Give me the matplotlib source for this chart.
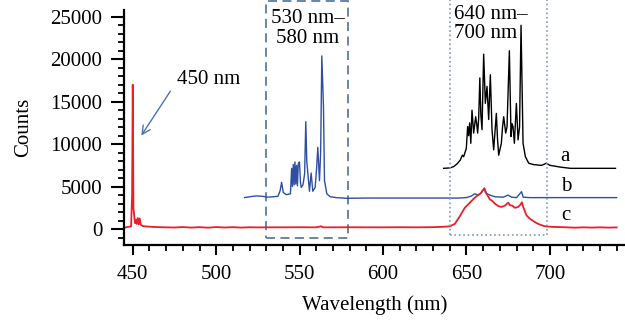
import matplotlib
matplotlib.use("Agg")
import matplotlib.pyplot as plt
from matplotlib.patches import Rectangle
from matplotlib.ticker import MultipleLocator

# curve c (red)
red_wl = [445, 447, 449, 449.6, 450, 450.4, 451, 451.4, 451.8, 452.4,
          453, 453.6, 454.2, 454.8, 456, 458, 462, 466, 470, 475,
          480, 485, 490, 495, 500, 505, 510, 515, 520, 525,
          530, 540, 550, 560, 563, 564, 565, 570, 580, 590,
          600, 610, 620, 630, 636, 640, 643, 646, 649, 652,
          655, 657, 658.5, 659.5, 660.7, 661.5, 662.5, 664, 665.5, 667,
          669, 671, 673, 675, 676, 677.5, 679, 681, 682.5, 683.2,
          684, 686, 688, 690, 692, 694, 696, 698, 702, 706,
          710, 715, 720, 725, 730, 735, 740]
red_ct = [150, 250, 300, 4000, 17000, 2500, 1300, 700, 1100, 600,
          1300, 550, 1250, 500, 350, 300, 250, 220, 200, 180,
          230, 170, 220, 160, 230, 180, 220, 170, 210, 190,
          200, 200, 210, 200, 320, 200, 200, 200, 210, 200,
          200, 210, 200, 220, 260, 320, 600, 1500, 2500, 3100,
          3700, 4000, 4200, 4500, 4750, 4300, 4000, 3500, 3300, 3000,
          2700, 2600, 2750, 3100, 2800, 2750, 2500, 2600, 2900, 3150,
          2600, 1600, 1200, 950, 700, 520, 380, 300, 250, 230,
          200, 160, 200, 170, 200, 170, 190]

# curve b (blue)
blue_wl = [517, 520, 524, 528, 531, 534, 537, 538.3, 539.2, 540.2,
           542, 544.5, 545.2, 545.7, 546.2, 546.7, 547.2, 547.7, 548.2, 548.7,
           549.2, 549.9, 550.5, 551, 552, 553, 553.7, 554.3, 554.9, 555.9,
           556.9, 557.9, 559.3, 560.2, 560.9, 561.9, 562.6, 563.3, 564.3, 564.9,
           566.3, 568.3, 572, 578, 590, 610, 630, 645, 650, 653,
           655, 657, 659, 660.7, 662, 664, 667, 672, 675, 677,
           680, 683, 684, 688, 700, 720, 740]
blue_ct = [3700, 3800, 3900, 3850, 3750, 3800, 3850, 4500, 5500, 4300,
           4050, 4150, 7150, 5000, 7600, 5200, 7900, 5300, 7500, 5100,
           7700, 7900, 5500, 4900, 5200, 6500, 12650, 8000, 6600, 4450,
           6600, 4450, 4900, 7200, 9630, 5700, 9000, 20400, 14400, 5700,
           4150, 3800, 3700, 3620, 3650, 3650, 3650, 3650, 3700, 3900,
           4150, 4000, 4300, 4830, 4200, 4000, 3800, 3750, 4000, 3750,
           3700, 4400, 3750, 3700, 3700, 3700, 3700]

# curve a (black)
black_wl = [636.3, 640, 642.3, 644.5, 646.3, 647.5, 648.3, 649.9, 650.7, 651.3,
            651.9, 652.6, 653.3, 654.3, 655.5, 656.1, 656.7, 657.3, 658, 658.6,
            659.3, 660.3, 661.3, 662.3, 663.3, 664.3, 665.3, 666.3, 667.1, 667.9,
            668.6, 669.3, 670.9, 671.6, 672.3, 673.5, 674.3, 675.7, 676.7, 677.3,
            677.9, 678.7, 679.9, 680.9, 681.8, 682.7, 683.9, 685.3, 687.3, 690,
            692.3, 695, 697.9, 700, 702.3, 706, 712.3, 720, 730, 739.3]
black_ct = [7150, 7200, 7350, 7700, 8130, 8700, 8520, 9500, 12070, 11000,
            12500, 10100, 14000, 11300, 13230, 12400, 11300, 13000, 17800, 13500,
            11700, 20600, 14800, 16800, 12900, 18170, 11700, 9330, 11500, 13620,
            10600, 8700, 10100, 12000, 13230, 11300, 12060, 21000, 10900, 12400,
            12070, 10100, 14800, 10500, 12000, 24000, 10100, 8520, 7750, 7600,
            7550, 7500, 7750, 7500, 7430, 7300, 7150, 7150, 7150, 7150]

plt.rcParams['font.family'] = ['Liberation Serif', 'DejaVu Serif']
plt.rcParams['font.size'] = 15

fig = plt.figure(figsize=(6.25, 3.23), dpi=100)
ax = fig.add_axes([0.198, 0.241, 0.802, 0.728])

ax.plot(black_wl, black_ct, color='black', lw=1.0)
ax.plot(blue_wl, blue_ct, color='#2f4fa2', lw=1.0)
ax.plot(red_wl, red_ct, color='#e8202a', lw=1.3)

ax.set_xlim(444.6, 745)
ax.set_ylim(-1900, 25800)

for s in ['top', 'right']:
    ax.spines[s].set_visible(False)
ax.spines['left'].set_linewidth(1.6)
ax.spines['bottom'].set_linewidth(1.6)

ax.xaxis.set_major_locator(MultipleLocator(50))
ax.xaxis.set_minor_locator(MultipleLocator(10))
ax.yaxis.set_major_locator(MultipleLocator(5000))
ax.yaxis.set_minor_locator(MultipleLocator(1000))
ax.tick_params(which='major', direction='out', width=1.5, labelsize=15)
ax.tick_params(axis='y', which='major', length=9.5, pad=6)
ax.tick_params(axis='x', which='major', length=7.5, pad=7)
ax.tick_params(which='minor', direction='out', length=4, width=1.3)
ax.set_xticks([450, 500, 550, 600, 650, 700])

ax.set_xlabel("Wavelength (nm)", fontsize=15, labelpad=8)
ax.set_ylabel("Counts", fontsize=15, labelpad=12)

# dashed box around 530-580 nm
box_col = '#5b7ca6'
ax.add_patch(Rectangle((530, -1060), 49, 27900, fill=False, ls=(0, (5, 3)),
                       lw=1.3, edgecolor=box_col, clip_on=False))

# dotted region 640-700 nm
dot_col = '#8096b8'
ax.plot([640, 640], [-720, 27500], ls=':', color=dot_col, lw=1.2, clip_on=False)
ax.plot([698, 698], [-720, 27500], ls=':', color=dot_col, lw=1.2, clip_on=False)
ax.plot([640, 698], [-720, -720], ls=':', color=dot_col, lw=1.2, clip_on=False)

ax.text(555, 23600, "530 nm–\n580 nm", ha='center', va='center', fontsize=15,
        linespacing=1.05, clip_on=False)
ax.text(642.5, 24200, "640 nm–\n700 nm", ha='left', va='center', fontsize=15,
        linespacing=1.0, clip_on=False)

ax.annotate("", xy=(454.2, 10730), xytext=(473.4, 16500),
            arrowprops=dict(arrowstyle='->', color='#4a74b0', lw=1.0))
ax.text(476.4, 17570, "450 nm", ha='left', va='center', fontsize=15)

ax.text(709.3, 8600, "a", ha='center', va='center', fontsize=15)
ax.text(710, 4990, "b", ha='center', va='center', fontsize=15)
ax.text(709.3, 1650, "c", ha='center', va='center', fontsize=15)

fig.savefig("out.png", dpi=100)
